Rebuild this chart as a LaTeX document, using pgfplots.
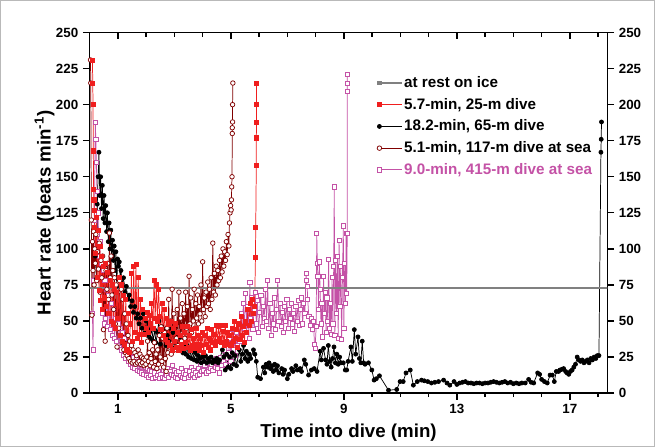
\documentclass[border=0pt]{standalone}
\usepackage{fontspec}
\setmainfont{Liberation Sans}
\usepackage{pgfplots}
\pgfplotsset{compat=1.18}
\definecolor{hrgray}{RGB}{128,128,128}
\definecolor{hrred}{RGB}{240,30,30}
\definecolor{hrbrown}{RGB}{128,0,0}
\definecolor{hrpink}{RGB}{196,82,166}
\pgfplotsset{
  common/.style={
    scale only axis, width=387.75pt, height=270pt,
    xmin=0, xmax=18.33, ymin=0, ymax=250,
    xtick={1,5,9,13,17},
    minor xtick={2,3,4,6,7,8,10,11,12,14,15,16,18},
    ytick={0,25,...,250},
    axis line style={line width=1pt},
    major tick length=5pt, minor tick length=3pt,
    every tick/.style={black, line width=1pt},
    every minor tick/.style={black, line width=1pt},
    /pgf/number format/assume math mode=true,
    tick label style={font=\fontsize{10}{12}\selectfont\bfseries},
  }
}
\begin{document}
\begin{tikzpicture}
% top ticks (inside)
\begin{axis}[common, xtick pos=right, tick align=inside, xticklabels={}, ytick=\empty]
\end{axis}
% right axis
\begin{axis}[common, ytick pos=right, yticklabel pos=right, tick align=outside, xtick=\empty, minor xtick={}]
\end{axis}
\begin{axis}[common, name=main,
  xtick pos=left, ytick pos=left, tick align=outside,
  xlabel={Time into dive (min)},
  ylabel={Heart rate (beats min\textsuperscript{-1})},
  label style={font=\fontsize{14}{16}\selectfont\bfseries},
  xlabel style={at={(axis description cs:0.5,-0.111)}, anchor=center},
  ylabel style={at={(axis description cs:-0.087,0.5)}, anchor=center},
  legend style={at={(axis description cs:0.547,0.89)}, anchor=north west,
    draw=none, fill=none, font=\fontsize{11.4}{13.5}\selectfont\bfseries,
    row sep=4.5pt, nodes={inner sep=1pt}},
  legend cell align=left,
  legend image code/.code={\draw[mark repeat=2,mark phase=1,#1] plot coordinates {(0pt,0pt) (17pt,0pt)};},
  every axis plot/.append style={line width=0.55pt},
]
% 9.0-min, 415-m dive at sea
\addplot[color=hrpink, mark=square*, mark size=1.55pt, mark options={solid, fill=white, draw=hrpink}, forget plot] coordinates {
(0.10,55) (0.12,30) (0.14,78) (0.17,120) (0.20,188) (0.22,176) (0.24,160) (0.26,140) (0.28,110) (0.30,125)
(0.33,95) (0.36,105) (0.39,80) (0.42,90) (0.45,55) (0.48,85) (0.51,48) (0.54,78) (0.57,52) (0.60,72)
(0.64,46) (0.68,68) (0.72,44) (0.76,62) (0.80,40) (0.84,58) (0.88,38) (0.92,52) (0.96,36) (1.00,48)
(1.04,32) (1.08,45) (1.12,30) (1.16,42) (1.20,26) (1.24,38) (1.28,24) (1.32,33) (1.36,22) (1.40,30)
(1.44,20) (1.48,28) (1.52,18) (1.56,25) (1.60,17) (1.64,23) (1.68,16) (1.72,22) (1.76,15) (1.80,20)
(1.84,14) (1.88,19) (1.92,13) (1.96,18) (2.00,12) (2.04,17) (2.08,11) (2.12,16) (2.16,12) (2.20,15)
(2.24,10) (2.28,14) (2.32,11) (2.36,18) (2.40,12) (2.44,15) (2.48,10) (2.52,13) (2.56,11) (2.60,16)
(2.64,10) (2.68,14) (2.72,12) (2.76,17) (2.80,11) (2.84,15) (2.88,13) (2.92,19) (2.96,12) (3.00,16)
(3.04,11) (3.08,14) (3.12,10) (3.16,15) (3.20,12) (3.24,17) (3.28,11) (3.32,14) (3.36,10) (3.40,13)
(3.44,16) (3.48,11) (3.52,15) (3.56,12) (3.60,18) (3.64,13) (3.68,16) (3.72,11) (3.76,14) (3.80,12)
(3.84,17) (3.88,13) (3.92,20) (3.96,15) (4.00,22) (4.04,16) (4.08,19) (4.12,14) (4.16,21) (4.20,15)
(4.24,23) (4.28,17) (4.32,20) (4.36,16) (4.40,22) (4.44,18) (4.48,24) (4.52,17) (4.56,21) (4.60,14)
(4.64,25) (4.68,19) (4.72,22) (4.76,30) (4.80,20) (4.84,35) (4.88,24) (4.92,28) (4.96,38) (5.00,22)
(5.04,44) (5.08,30) (5.12,36) (5.16,26) (5.20,42) (5.24,33) (5.28,48) (5.32,36) (5.36,55) (5.40,40)
(5.44,62) (5.48,45) (5.52,69) (5.56,50) (5.60,60) (5.64,38) (5.67,77) (5.70,52) (5.74,66) (5.78,44)
(5.82,58) (5.86,70) (5.90,48) (5.94,64) (5.98,42) (6.02,56) (6.06,68) (6.10,46) (6.14,60) (6.18,52)
(6.22,72) (6.26,50) (6.30,78) (6.34,45) (6.38,62) (6.42,40) (6.46,55) (6.50,48) (6.54,66) (6.58,44)
(6.62,58) (6.66,78) (6.70,50) (6.74,62) (6.78,46) (6.82,56) (6.86,42) (6.90,60) (6.94,50) (6.98,65)
(7.02,45) (7.06,58) (7.10,52) (7.14,62) (7.18,48) (7.22,55) (7.26,43) (7.30,60) (7.34,50) (7.38,64)
(7.42,47) (7.46,58) (7.50,66) (7.54,48) (7.58,62) (7.62,55) (7.66,83) (7.68,78) (7.70,74) (7.72,65)
(7.76,53) (7.80,47) (7.84,52) (7.88,44) (7.92,50) (7.96,34) (7.98,31) (8.02,46) (8.04,111) (8.06,90)
(8.08,81) (8.10,58) (8.13,91) (8.16,72) (8.19,48) (8.22,62) (8.25,39) (8.28,81) (8.31,55) (8.34,70)
(8.37,42) (8.40,66) (8.43,50) (8.46,93) (8.49,45) (8.52,62) (8.55,41) (8.58,80) (8.61,48) (8.64,88)
(8.66,143) (8.68,40) (8.71,92) (8.74,55) (8.77,95) (8.80,38) (8.83,106) (8.86,60) (8.89,88) (8.92,37)
(8.95,80) (8.98,116) (9.00,45) (9.03,90) (9.06,62) (9.08,111) (9.10,69) (9.12,111) (9.12,209) (9.12,215) (9.12,221)
};
% 18.2-min, 65-m dive
\addplot[color=black, mark=*, mark size=1.5pt, mark options={solid, fill=black}, forget plot] coordinates {
(0.20,95) (0.24,79) (0.27,131) (0.30,150) (0.33,167) (0.36,137) (0.39,150) (0.42,128) (0.45,144) (0.48,121)
(0.51,137) (0.54,118) (0.57,130) (0.60,112) (0.63,125) (0.66,105) (0.69,118) (0.72,100) (0.75,113) (0.78,95)
(0.81,106) (0.84,92) (0.87,102) (0.90,85) (0.93,98) (0.96,74) (0.99,93) (1.02,88) (1.05,91) (1.08,80)
(1.11,85) (1.15,76) (1.20,80) (1.25,70) (1.30,74) (1.35,65) (1.40,68) (1.45,60) (1.50,64) (1.55,56)
(1.60,60) (1.65,52) (1.70,55) (1.75,48) (1.80,52) (1.85,45) (1.90,55) (1.95,42) (2.00,50) (2.05,40)
(2.10,48) (2.15,38) (2.20,45) (2.25,36) (2.30,44) (2.35,35) (2.40,42) (2.45,50) (2.50,34) (2.55,46)
(2.60,38) (2.65,44) (2.70,33) (2.75,40) (2.80,36) (2.85,45) (2.90,32) (2.95,42) (3.00,35) (3.05,47)
(3.10,31) (3.15,40) (3.20,30) (3.25,38) (3.30,28) (3.35,36) (3.40,27) (3.45,33) (3.50,25) (3.55,30)
(3.60,24) (3.65,29) (3.70,23) (3.75,28) (3.80,22) (3.85,26) (3.90,24) (3.95,21) (4.00,25) (4.05,22)
(4.10,26) (4.15,21) (4.20,24) (4.25,22) (4.30,25) (4.35,21) (4.40,23) (4.45,22) (4.50,24) (4.55,21)
(4.60,23) (4.70,30) (4.75,25) (4.80,16) (4.85,27) (4.90,18) (4.95,25) (5.00,17) (5.05,28) (5.10,20)
(5.15,26) (5.20,19) (5.30,30) (5.35,22) (5.40,27) (5.45,33) (5.50,24) (5.55,29) (5.60,22) (5.65,27)
(5.70,24) (5.80,30) (5.85,27) (5.90,22) (5.95,11) (6.05,10) (6.15,18) (6.20,14) (6.25,20) (6.30,18)
(6.35,21) (6.40,17) (6.45,19) (6.50,15) (6.55,20) (6.60,16) (6.65,19) (6.70,14) (6.80,17) (6.85,13)
(6.90,16) (7.00,10) (7.05,13) (7.15,17) (7.20,15) (7.30,19) (7.35,16) (7.45,17) (7.50,15) (7.60,23)
(7.65,20) (7.75,12.5) (7.85,16) (7.95,17) (8.05,15) (8.16,29) (8.20,23) (8.28,31) (8.35,23) (8.40,20)
(8.45,33) (8.50,22) (8.55,18) (8.60,24) (8.65,32) (8.70,21) (8.75,27) (8.80,20) (8.85,25) (8.90,21)
(8.98,21) (9.05,16) (9.10,16) (9.15,22) (9.25,32) (9.30,22) (9.37,44) (9.42,27) (9.50,39) (9.55,24)
(9.60,21) (9.65,36) (9.70,21) (9.75,20) (9.87,21) (9.99,16) (10.07,9) (10.15,10) (10.26,12) (10.58,2)
(10.87,2.5) (10.99,8) (11.10,8) (11.20,14) (11.35,16) (11.46,5.5) (11.60,8) (11.75,9) (11.85,8.5) (11.97,8)
(12.10,7) (12.22,7.5) (12.35,8) (12.53,9) (12.65,7) (12.75,5.5) (12.90,8) (13.00,6) (13.10,7) (13.20,7.5)
(13.30,8) (13.40,7) (13.50,7) (13.60,6.5) (13.70,7) (13.80,7) (13.90,6.5) (14.00,7) (14.10,7) (14.20,7.5)
(14.30,8) (14.40,7.5) (14.50,7) (14.60,7.5) (14.70,8) (14.80,7) (14.90,7.5) (15.00,6.5) (15.10,7) (15.20,6.5)
(15.30,7) (15.42,7) (15.54,9.5) (15.63,7.5) (15.72,7) (15.86,14) (15.93,13) (16.00,9.5) (16.10,8) (16.20,7)
(16.30,12.5) (16.38,12.5) (16.45,8) (16.52,15) (16.60,15) (16.65,16) (16.72,16.5) (16.78,17) (16.85,15) (16.90,14)
(16.96,13) (17.02,15) (17.08,16) (17.14,18) (17.20,20) (17.26,25) (17.32,23) (17.38,22) (17.44,23) (17.50,21)
(17.56,22) (17.62,23) (17.68,21) (17.74,24) (17.80,23) (17.86,25) (17.92,24) (17.97,26) (18.03,26) (18.10,167)
(18.11,176) (18.12,188)
};
% 5.1-min, 117-m dive at sea
\addplot[color=hrbrown, mark=*, mark size=1.7pt, mark options={solid, fill=white, draw=hrbrown}, forget plot] coordinates {
(0.03,231) (0.04,215) (0.06,120) (0.08,54) (0.10,105) (0.12,85) (0.14,112) (0.16,75) (0.18,100) (0.20,90)
(0.22,110) (0.25,78) (0.28,98) (0.31,86) (0.34,104) (0.37,70) (0.40,92) (0.43,80) (0.46,95) (0.49,44)
(0.52,88) (0.55,36) (0.58,85) (0.61,72) (0.64,90) (0.67,65) (0.70,111) (0.73,80) (0.76,95) (0.79,68)
(0.82,85) (0.85,58) (0.88,80) (0.91,48) (0.94,75) (0.97,32) (1.00,70) (1.03,45) (1.06,78) (1.09,40)
(1.12,72) (1.15,35) (1.18,65) (1.21,30) (1.24,55) (1.27,28) (1.30,48) (1.33,26) (1.36,40) (1.39,24)
(1.42,36) (1.45,22) (1.48,33) (1.51,21) (1.54,30) (1.57,22) (1.60,28) (1.63,20) (1.66,26) (1.69,21)
(1.72,30) (1.75,22) (1.78,27) (1.81,20) (1.84,25) (1.87,21) (1.90,24) (1.93,19) (1.96,23) (1.99,20)
(2.02,25) (2.05,36) (2.08,22) (2.11,28) (2.14,19) (2.17,24) (2.20,21) (2.23,30) (2.26,18) (2.29,35)
(2.32,22) (2.35,27) (2.38,17) (2.41,30) (2.44,20) (2.47,40) (2.50,25) (2.53,46) (2.56,22) (2.59,38)
(2.62,18) (2.65,42) (2.68,24) (2.71,15) (2.74,45) (2.77,28) (2.80,65) (2.83,32) (2.86,50) (2.89,27)
(2.92,72) (2.95,35) (2.98,55) (3.01,30) (3.04,48) (3.07,38) (3.10,58) (3.13,33) (3.16,70) (3.19,40)
(3.22,52) (3.25,36) (3.28,62) (3.31,42) (3.34,55) (3.37,38) (3.40,70) (3.43,45) (3.46,60) (3.49,40)
(3.52,81) (3.55,48) (3.58,66) (3.61,42) (3.64,58) (3.67,50) (3.70,72) (3.73,45) (3.76,62) (3.79,52)
(3.82,68) (3.85,48) (3.88,60) (3.91,55) (3.94,75) (3.97,50) (4.00,91) (4.03,58) (4.06,66) (4.09,53)
(4.12,70) (4.15,60) (4.18,77) (4.21,62) (4.24,72) (4.27,58) (4.30,80) (4.33,65) (4.36,104) (4.39,70)
(4.42,83) (4.45,68) (4.48,88) (4.51,75) (4.54,85) (4.57,78) (4.60,92) (4.63,80) (4.66,95) (4.69,84)
(4.72,100) (4.75,88) (4.78,98) (4.81,92) (4.84,105) (4.87,96) (4.90,110) (4.93,102) (4.95,118) (4.97,125)
(4.99,130) (5.01,127) (5.02,134) (5.03,143) (5.04,150) (5.05,180) (5.05,184) (5.06,188) (5.06,200) (5.07,215)
};
% 5.7-min, 25-m dive
\addplot[color=hrred, mark=square*, mark size=1.55pt, mark options={solid, fill=hrred, draw=hrred}, forget plot] coordinates {
(0.10,231) (0.11,215) (0.12,200) (0.13,168) (0.14,141) (0.15,134) (0.16,127) (0.18,115) (0.21,97) (0.24,122)
(0.27,80) (0.30,113) (0.33,71) (0.36,102) (0.39,64) (0.42,95) (0.45,58) (0.48,88) (0.52,66) (0.56,90)
(0.60,60) (0.64,84) (0.68,55) (0.72,78) (0.76,50) (0.80,75) (0.84,48) (0.88,72) (0.92,45) (0.96,70)
(1.00,52) (1.04,80) (1.08,40) (1.12,75) (1.16,36) (1.20,68) (1.24,34) (1.28,65) (1.32,30) (1.36,55)
(1.40,28) (1.44,48) (1.48,83) (1.52,36) (1.56,88) (1.60,42) (1.64,89) (1.68,38) (1.72,80) (1.76,41)
(1.80,65) (1.84,35) (1.88,58) (1.92,41) (1.96,52) (2.00,45) (2.04,56) (2.08,42) (2.12,54) (2.16,48)
(2.20,62) (2.24,45) (2.28,78) (2.32,52) (2.36,75) (2.40,50) (2.44,72) (2.48,53) (2.52,44) (2.56,62)
(2.60,40) (2.64,58) (2.68,37) (2.72,52) (2.76,35) (2.80,48) (2.84,33) (2.88,50) (2.92,30) (2.96,45)
(3.00,36) (3.04,48) (3.08,32) (3.12,42) (3.16,30) (3.20,40) (3.24,34) (3.28,46) (3.32,31) (3.36,42)
(3.40,35) (3.44,46) (3.48,32) (3.52,40) (3.56,30) (3.60,44) (3.64,33) (3.68,38) (3.72,31) (3.76,45)
(3.80,34) (3.84,40) (3.88,30) (3.92,38) (3.96,33) (4.00,42) (4.04,28) (4.08,40) (4.12,34) (4.16,45)
(4.20,32) (4.24,38) (4.28,30) (4.32,44) (4.36,35) (4.40,41) (4.44,33) (4.48,47) (4.52,36) (4.56,46)
(4.60,38) (4.64,47) (4.68,35) (4.72,43) (4.76,33) (4.80,47) (4.84,36) (4.88,42) (4.92,34) (4.96,40)
(5.00,33) (5.04,45) (5.08,36) (5.12,50) (5.16,38) (5.20,44) (5.24,32) (5.28,48) (5.32,37) (5.36,53)
(5.40,40) (5.44,46) (5.48,35) (5.52,50) (5.56,42) (5.60,58) (5.64,47) (5.68,62) (5.72,50) (5.76,65)
(5.80,55) (5.84,60) (5.87,94) (5.88,115) (5.90,158) (5.90,177) (5.91,188) (5.91,200) (5.91,215)
};
% at rest on ice
\addplot[color=hrgray, line width=1.1pt, forget plot] coordinates {(-1,73) (20,73)};
% legend
\addlegendimage{color=hrgray, line width=1.1pt, mark=square*, mark size=1.3pt, mark options={solid, fill=hrgray}}
\addlegendentry{at rest on ice}
\addlegendimage{color=hrred, mark=square*, mark size=1.55pt, mark options={solid, fill=hrred}}
\addlegendentry{5.7-min, 25-m dive}
\addlegendimage{color=black, mark=*, mark size=1.5pt, mark options={solid, fill=black}}
\addlegendentry{18.2-min, 65-m dive}
\addlegendimage{color=hrbrown, mark=*, mark size=1.7pt, mark options={solid, fill=white, draw=hrbrown}}
\addlegendentry{5.1-min, 117-m dive at sea}
\addlegendimage{color=hrpink, mark=square*, mark size=1.55pt, mark options={solid, fill=white, draw=hrpink}}
\addlegendentry{\textcolor{hrpink}{9.0-min, 415-m dive at sea}}
\end{axis}
\draw[gray!55, line width=0.75pt] ([shift={(-66.75pt,-39.75pt)}]main.south west) rectangle ([shift={(35.25pt,24pt)}]main.north east);
\end{tikzpicture}
\end{document}
